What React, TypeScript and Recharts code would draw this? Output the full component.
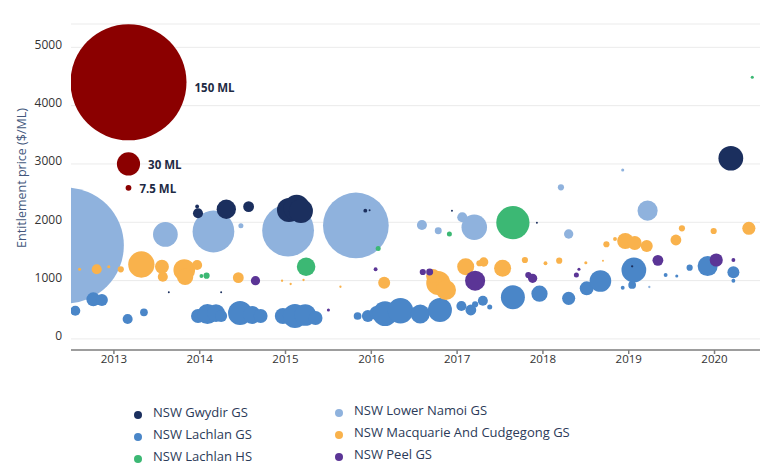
import React from "react";
import { ScatterChart, Scatter, XAxis, YAxis, CartesianGrid } from "recharts";

// [year, price $/ML, volume ML]
type Pt = [number, number, number];

const gwydirGS: Pt[] = [
  [2013.98, 2154, 13], [2013.97, 2270, 5], [2014.31, 2223, 25], [2014.57, 2268, 14],
  [2015.04, 2211, 31], [2015.13, 2245, 34], [2015.18, 2194, 31],
  [2015.93, 2199, 5], [2015.98, 2205, 2.5], [2020.19, 3098, 32],
  [2013.64, 800, 2.5], [2014.25, 800, 2.5], [2017.93, 1993, 2.5], [2019.04, 1245, 3], [2016.94, 2199, 2.5],
];

const lachlanGS: Pt[] = [
  [2012.55, 484, 13], [2012.76, 679, 18], [2012.86, 667, 15.5], [2013.16, 341, 13], [2013.35, 456, 10],
  [2013.98, 393, 18], [2014.09, 427, 26], [2014.19, 444, 23], [2014.25, 393, 15.5],
  [2014.47, 444, 31], [2014.61, 410, 23], [2014.71, 393, 18],
  [2014.97, 393, 21], [2015.11, 393, 31], [2015.23, 410, 28], [2015.35, 359, 18],
  [2015.84, 393, 10], [2015.96, 393, 15.5], [2016.06, 444, 18], [2016.16, 432, 32],
  [2016.34, 484, 33], [2016.57, 427, 24.5], [2016.8, 496, 31],
  [2017.05, 564, 13], [2017.16, 496, 14], [2017.21, 593, 8], [2017.3, 655, 13], [2017.38, 547, 6.5],
  [2017.65, 714, 31], [2017.96, 775, 21], [2018.3, 696, 17],
  [2018.51, 868, 18], [2018.67, 993, 28],
  [2019.06, 1182, 32], [2019.04, 925, 10], [2018.93, 878, 5],
  [2019.71, 1221, 8], [2019.43, 1096, 5], [2019.56, 1079, 4],
  [2019.92, 1250, 26], [2020.22, 1142, 15.5], [2020.22, 998, 5],
];

const lachlanHS: Pt[] = [
  [2014.08, 1084, 8], [2014.02, 1079, 5], [2015.24, 1238, 24], [2016.08, 1551, 6.5],
  [2016.91, 1799, 6.5], [2017.65, 1993, 43], [2020.44, 4487, 4],
];

const lowerNamoiGS: Pt[] = [
  [2012.44, 1602, 150], [2013.6, 1791, 32], [2014.16, 1842, 54], [2014.48, 1942, 6.5],
  [2015.03, 1859, 67], [2015.82, 1945, 85], [2016.59, 1954, 13], [2016.78, 1856, 9],
  [2017.06, 2086, 13], [2017.2, 1914, 33], [2018.21, 2600, 8], [2018.3, 1799, 12],
  [2019.22, 2199, 26], [2018.93, 2897, 4], [2019.24, 890, 3],
];

const macquarieGS: Pt[] = [
  [2012.6, 1194, 4], [2012.8, 1194, 13], [2012.94, 1238, 4], [2013.08, 1194, 8],
  [2013.32, 1276, 34], [2013.56, 1238, 18], [2013.57, 1067, 13],
  [2013.82, 1182, 28], [2013.83, 1062, 21], [2013.97, 1268, 13], [2014.45, 1050, 14],
  [2014.96, 998, 3], [2015.06, 942, 3], [2015.21, 1010, 3], [2015.64, 895, 3],
  [2016.15, 964, 15.5], [2016.78, 959, 31], [2016.87, 839, 26], [2016.72, 1079, 18],
  [2017.1, 1238, 22], [2017.31, 1319, 12], [2017.26, 1297, 8], [2017.53, 1211, 22],
  [2017.79, 1353, 8], [2018.03, 1297, 5], [2018.19, 1341, 8], [2018.5, 1307, 4], [2018.7, 1341, 2.5],
  [2018.74, 1623, 8], [2018.84, 1714, 5], [2018.96, 1679, 21], [2019.07, 1645, 18],
  [2019.21, 1594, 15.5], [2019.55, 1696, 14], [2019.62, 1897, 8], [2019.99, 1851, 8], [2020.4, 1897, 17],
];

const peelGS: Pt[] = [
  [2014.65, 998, 12], [2015.5, 496, 4], [2016.05, 1194, 5], [2016.6, 1148, 8], [2016.68, 1148, 9],
  [2017.21, 998, 26], [2017.83, 1096, 8], [2017.88, 1039, 12], [2018.39, 1096, 6.5], [2018.42, 1194, 4],
  [2019.34, 1348, 14], [2020.02, 1353, 17], [2020.22, 1353, 5],
];

const X_TICKS = [2013, 2014, 2015, 2016, 2017, 2018, 2019, 2020];
const Y_TICKS = [0, 1000, 2000, 3000, 4000, 5000];

const sizeLegendMl = [150, 30, 7.5];
const sizeLegendPrice = [4400, 3000, 2590];
const sizeLegendLabels = ["150 ML", "30 ML", "7.5 ML"];
const SIZE_LEGEND_YEAR = 2013.17;

const R_PER_ML = 58 / 150;

const SERIES = [
  { name: "NSW Gwydir GS", color: "#1b2f5e", data: gwydirGS },
  { name: "NSW Lachlan GS", color: "#4a86c8", data: lachlanGS },
  { name: "NSW Lachlan HS", color: "#3cb874", data: lachlanHS },
  { name: "NSW Lower Namoi GS", color: "#8fb2dd", data: lowerNamoiGS },
  { name: "NSW Macquarie And Cudgegong GS", color: "#f9b24c", data: macquarieGS },
  { name: "NSW Peel GS", color: "#5b3596", data: peelGS },
];

// back to front
const DRAW_ORDER = [3, 1, 4, 2, 5, 0];

const toRows = (pts: Pt[]) => pts.map(([x, y, ml]) => ({ x, y, ml }));

const sizeRows = sizeLegendMl.map((ml, i) => ({
  x: SIZE_LEGEND_YEAR,
  y: sizeLegendPrice[i],
  ml,
  label: sizeLegendLabels[i],
}));

const bubble = (color: string) => (p: any) => (
  <circle cx={p.cx} cy={p.cy} r={p.payload.ml * R_PER_ML} fill={color} />
);

const sizeBubble = (p: any) => {
  const r = p.payload.ml * R_PER_ML;
  return (
    <g>
      <circle cx={p.cx} cy={p.cy} r={r} fill="#8b0000" />
      <text
        x={p.cx + r + 8}
        y={p.cy + (r > 30 ? 5 : 1)}
        dominantBaseline="central"
        fontSize={11.5}
        fontWeight={700}
        fill="#1e2a44"
      >
        {p.payload.label}
      </text>
    </g>
  );
};

function LegendBlock() {
  const cols = [SERIES.slice(0, 3), SERIES.slice(3)];
  const colX = [138, 339];
  const colY = [412, 409.5];
  return (
    <>
      {cols.map((col, c) =>
        col.map((s, i) => (
          <div
            key={s.name}
            style={{
              position: "absolute",
              left: colX[c] - 4,
              top: colY[c] + i * 22 - 9,
              height: 18,
              display: "flex",
              alignItems: "center",
              whiteSpace: "nowrap",
              fontSize: 13,
              color: "#2b3a58",
            }}
          >
            <span
              style={{
                width: 8,
                height: 8,
                borderRadius: 4,
                background: s.color,
                marginTop: 6,
                marginRight: 11,
              }}
            />
            {s.name}
          </div>
        ))
      )}
    </>
  );
}

export default function App() {
  return (
    <div
      style={{
        position: "absolute",
        left: 0,
        top: 0,
        width: 778,
        height: 473,
        background: "#fff",
        fontFamily: '"Open Sans", "Noto Sans", sans-serif',
      }}
    >
      <ScatterChart width={778} height={473} margin={{ top: 24, right: 18, left: 0, bottom: 93 }}>
        <CartesianGrid vertical={false} stroke="#ebebeb" />
        <XAxis
          type="number"
          dataKey="x"
          domain={[2012.5, 2020.53]}
          ticks={X_TICKS}
          allowDataOverflow
          height={30}
          stroke="#7f7f7f"
          strokeWidth={1.5}
          tickSize={4}
          tickMargin={1}
          tick={{ fontSize: 11.5, fill: "#333" }}
        />
        <YAxis
          type="number"
          dataKey="y"
          domain={[-190, 5400]}
          ticks={Y_TICKS}
          allowDataOverflow
          width={71}
          axisLine={false}
          tickLine={false}
          tickMargin={3}
          tick={{ fontSize: 12, fill: "#333", dy: -3 }}
          label={{
            content: () => (
              <text
                x={21}
                y={178}
                transform="rotate(-90 21 178)"
                textAnchor="middle"
                dominantBaseline="central"
                fontSize={12.5}
                fill="#43577c"
              >
                Entitlement price ($/ML)
              </text>
            ),
          }}
        />
        {DRAW_ORDER.map((i) => (
          <Scatter
            key={SERIES[i].name}
            name={SERIES[i].name}
            data={toRows(SERIES[i].data)}
            fill={SERIES[i].color}
            shape={bubble(SERIES[i].color)}
            isAnimationActive={false}
          />
        ))}
        <Scatter name="size" data={sizeRows} fill="#8b0000" shape={sizeBubble} isAnimationActive={false} />
      </ScatterChart>
      <LegendBlock />
    </div>
  );
}
